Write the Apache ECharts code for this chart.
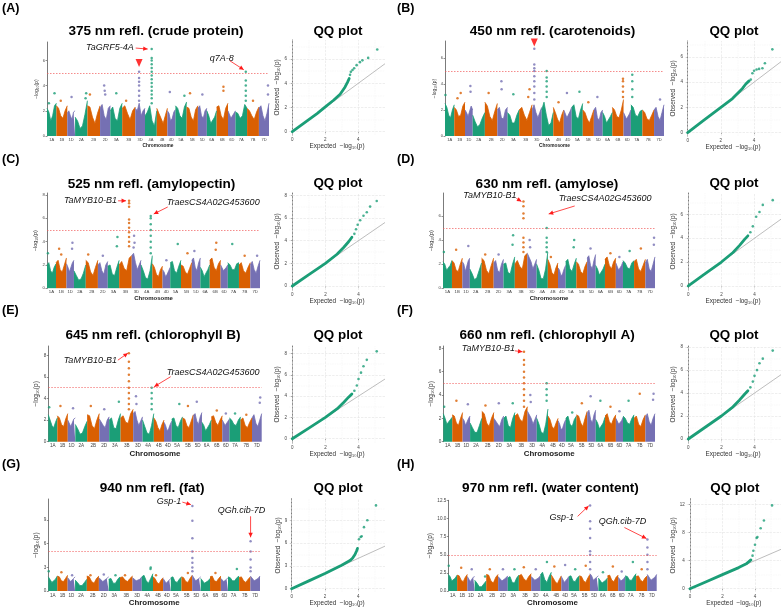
<!DOCTYPE html>
<html><head><meta charset="utf-8">
<script src="https://cdn.jsdelivr.net/npm/echarts@6/dist/echarts.min.js"></script>
<style>html,body{margin:0;padding:0;background:#fff}#c{width:782px;height:608px}</style>
</head><body><div id="c"></div>
<script>
const CHR = ['1A','1B','1D','2A','2B','2D','3A','3B','3D','4A','4B','4D','5A','5B','5D','6A','6B','6D','7A','7B','7D'];
const CHR_LEN = [594,689,495,780,801,651,750,830,615,744,673,509,709,713,566,618,720,473,736,750,638];
const COLORS = ['#1B9E77','#D95F02','#7570B3'];
const THRESHOLD = 5;

// envelope of the dense SNP cloud, 6 readings along each chromosome
const envA = [[2.2,1.9,1.2,1.6,2.4,2.6],[2.4,2.2,1.6,1.4,2.0,2.4],[1.8,2.0,1.6,1.3,1.9,2.0],[1.5,1.2,0.6,0.8,1.7,2.8],[2.4,2.3,1.5,1.0,1.8,2.4],[2.2,2.5,1.6,1.3,2.2,2.4],[2.0,2.3,1.4,1.2,2.2,2.6],[2.2,2.4,1.8,1.3,2.0,2.3],[2.2,2.0,2.6,1.6,2.0,2.2],[1.6,1.9,2.4,1.2,0.8,2.0],[2.2,1.8,1.4,1.0,1.6,2.2],[2.0,1.8,1.2,1.4,1.9,2.1],[2.4,2.2,1.6,1.4,2.3,2.7],[2.3,2.2,1.5,1.2,2.1,2.4],[2.2,2.4,1.6,1.4,2.0,2.2],[2.0,1.6,1.0,0.9,1.5,2.0],[2.3,2.4,1.6,1.3,2.2,2.6],[2.0,1.9,1.4,1.4,1.8,2.0],[1.9,1.8,1.4,1.6,2.5,2.2],[2.2,2.0,1.6,1.3,1.9,2.3],[2.2,2.4,1.6,1.2,1.8,2.6]];
const envB = [[2.5,2.2,1.6,1.4,2.0,2.4],[2.2,2.0,1.5,1.6,2.3,2.6],[2.0,1.8,1.5,1.6,2.3,2.0],[1.6,1.1,0.7,0.9,1.4,1.8],[2.6,2.3,1.5,1.2,1.9,2.5],[2.0,2.2,1.4,1.3,2.0,2.2],[1.8,1.6,1.0,1.0,1.6,2.0],[2.0,2.2,1.6,1.2,1.8,2.4],[2.0,2.4,1.8,1.4,1.8,2.2],[2.0,2.6,1.6,0.8,1.0,1.8],[2.2,1.8,1.3,1.0,1.6,2.0],[2.0,2.1,1.4,1.3,1.9,2.2],[2.2,2.4,1.5,1.3,2.0,2.5],[2.0,1.8,1.3,1.0,1.5,2.0],[2.0,2.2,1.4,1.2,1.8,2.0],[1.8,1.5,1.0,1.0,1.5,1.8],[2.2,2.0,1.5,1.4,2.0,2.8],[1.8,1.9,1.3,1.2,1.7,2.0],[2.4,2.2,1.6,1.5,1.9,2.0],[2.0,1.8,1.3,1.2,1.6,2.0],[2.0,2.2,1.5,1.2,1.8,2.4]];
const envC = [[2.0,2.2,1.5,1.3,1.8,2.1],[2.2,2.4,1.6,1.4,2.0,2.6],[2.1,1.8,1.4,1.5,2.2,2.4],[1.5,1.1,0.7,0.8,1.3,2.0],[2.4,2.2,1.4,1.1,1.8,2.4],[2.0,2.2,1.5,1.2,2.0,2.3],[1.9,2.0,1.2,1.1,1.8,2.4],[2.0,2.3,1.7,1.5,2.6,2.8],[2.8,3.0,2.2,1.6,2.0,2.4],[2.0,1.5,0.9,0.8,1.5,2.8],[2.1,1.8,1.2,1.0,1.6,1.9],[1.6,1.4,1.0,1.2,1.5,1.8],[2.2,2.3,1.5,1.3,1.9,2.4],[2.0,1.9,1.4,1.2,1.7,2.2],[2.4,2.6,1.8,1.5,2.2,2.6],[1.8,1.5,1.0,1.0,1.6,2.0],[2.4,2.6,1.8,1.5,2.1,2.4],[2.0,2.1,1.5,1.4,1.8,2.0],[2.2,2.0,1.6,1.6,2.1,2.2],[2.0,2.2,1.5,1.3,1.8,2.2],[2.0,2.3,1.6,1.3,1.9,2.4]];
const envD = [[2.2,2.0,1.5,1.4,1.9,2.3],[2.3,2.1,1.5,1.4,2.0,2.5],[2.2,2.0,1.4,1.5,2.3,2.5],[1.6,1.2,0.7,0.9,1.5,2.1],[2.5,2.3,1.5,1.2,1.9,2.5],[2.1,2.3,1.5,1.3,2.0,2.4],[2.0,2.1,1.3,1.2,2.0,2.6],[2.0,2.3,1.8,1.6,2.7,2.9],[2.9,2.8,2.2,1.6,2.0,2.4],[2.0,1.5,0.8,0.8,1.6,3.0],[2.4,2.0,1.3,1.1,1.7,2.1],[1.7,1.5,1.0,1.2,1.6,1.9],[2.2,2.4,1.6,1.4,2.0,2.5],[2.2,2.0,1.4,1.2,1.8,2.2],[2.5,2.7,1.9,1.6,2.3,2.8],[1.9,1.6,1.1,1.0,1.6,2.0],[2.4,2.6,1.9,1.6,2.2,2.5],[2.1,2.2,1.5,1.4,1.9,2.2],[2.3,2.1,1.7,1.6,2.1,2.3],[2.2,2.4,1.6,1.4,1.9,2.4],[2.1,2.4,1.6,1.4,2.0,2.6]];
const envE = [[2.5,2.0,1.5,1.3,1.8,2.2],[2.4,2.2,1.6,1.4,2.1,2.6],[2.0,1.9,1.4,1.5,2.1,2.2],[1.6,1.2,0.7,0.8,1.4,1.9],[2.5,2.4,1.5,1.2,2.0,2.6],[2.1,2.2,1.5,1.3,2.0,2.3],[2.0,2.2,1.3,1.2,2.0,2.6],[2.2,2.4,1.8,1.7,2.6,3.0],[2.6,2.8,2.0,1.5,1.9,2.3],[2.0,1.4,0.8,0.7,1.5,2.6],[2.2,1.9,1.3,1.0,1.6,2.0],[1.8,1.5,1.0,1.2,1.6,1.9],[2.1,2.2,1.5,1.3,1.9,2.3],[2.2,2.1,1.5,1.3,1.9,2.5],[2.4,2.6,1.9,1.6,2.3,2.7],[1.8,1.5,1.0,1.0,1.6,2.0],[2.3,2.4,1.8,1.5,2.0,2.4],[2.0,2.1,1.5,1.4,1.9,2.1],[2.2,2.0,1.6,1.5,2.0,2.3],[2.0,2.2,1.5,1.3,1.8,2.2],[2.2,2.5,1.7,1.4,2.0,2.6]];
const envF = [[2.4,2.0,1.5,1.4,1.9,2.1],[2.3,2.2,1.6,1.4,2.0,2.5],[2.0,1.8,1.4,1.5,2.0,2.2],[1.6,1.2,0.8,0.8,1.4,2.0],[2.6,2.4,1.6,1.3,2.0,2.5],[2.0,2.1,1.5,1.3,1.9,2.2],[2.0,2.2,1.4,1.2,2.0,2.5],[2.2,2.4,1.9,1.7,2.6,3.0],[2.6,2.7,2.0,1.5,1.9,2.3],[2.0,1.5,0.8,0.7,1.5,2.8],[2.2,1.9,1.3,1.1,1.6,2.0],[1.8,1.5,1.0,1.2,1.6,1.9],[2.0,2.2,1.5,1.3,1.9,2.2],[2.3,2.2,1.6,1.3,2.0,2.6],[2.4,2.7,1.9,1.6,2.3,2.7],[1.9,1.6,1.1,1.0,1.6,2.1],[2.2,2.4,1.7,1.5,2.0,2.3],[2.0,2.1,1.5,1.4,1.8,2.1],[2.2,2.0,1.6,1.5,2.0,2.3],[2.0,2.2,1.5,1.3,1.9,2.3],[2.1,2.4,1.7,1.4,2.0,2.4]];
const envG = [[1.8,1.6,1.1,1.0,1.5,1.9],[1.9,1.8,1.3,1.2,1.6,2.0],[1.7,1.6,1.2,1.2,1.6,1.8],[1.4,1.1,0.7,0.7,1.1,1.5],[1.9,1.8,1.2,1.0,1.6,1.9],[1.7,1.8,1.2,1.1,1.6,1.8],[1.5,1.6,1.0,1.0,1.5,1.8],[1.7,1.8,1.4,1.2,1.6,1.9],[1.7,1.8,1.3,1.1,1.5,1.8],[1.8,2.0,1.3,1.0,1.6,2.2],[1.8,1.6,1.1,0.9,1.4,1.7],[1.6,1.4,1.0,1.1,1.4,1.6],[1.7,1.8,1.2,1.1,1.5,1.8],[1.8,1.7,1.2,1.1,1.6,2.0],[2.0,1.8,1.3,1.2,1.6,1.8],[1.6,1.4,1.0,0.9,1.3,1.6],[1.8,1.9,1.3,1.2,1.6,1.9],[1.6,1.7,1.2,1.1,1.5,1.7],[1.8,1.7,1.3,1.3,1.7,1.9],[1.7,1.8,1.3,1.1,1.5,1.8],[1.9,1.8,1.3,1.1,1.6,1.9]];
const envH = [[2.3,2.0,1.4,1.3,1.8,2.2],[2.2,2.1,1.5,1.3,1.9,2.3],[2.0,1.9,1.3,1.4,1.9,2.0],[1.5,1.1,0.6,0.6,1.0,1.4],[2.3,2.2,1.4,1.1,1.9,2.3],[2.0,2.1,1.4,1.2,1.8,2.1],[1.8,2.0,1.2,1.1,1.8,2.2],[2.1,2.3,1.7,1.4,2.0,2.4],[2.0,2.2,1.5,1.3,1.8,2.1],[2.2,2.6,1.6,1.2,2.0,2.6],[2.2,2.0,1.3,1.0,1.6,2.1],[2.0,1.8,1.2,1.3,1.7,2.0],[2.0,2.1,1.4,1.3,1.8,2.1],[2.1,2.0,1.4,1.2,1.8,2.3],[2.4,2.1,1.5,1.4,1.9,2.1],[1.8,1.6,1.1,1.0,1.5,1.8],[2.1,2.2,1.5,1.3,1.9,2.2],[1.9,2.0,1.4,1.3,1.7,2.0],[2.1,2.0,1.5,1.5,2.0,2.4],[2.0,2.1,1.5,1.3,1.8,2.1],[2.3,2.2,1.5,1.3,1.9,2.3]];

// isolated SNPs above the cloud: [chromosome index, relative position, -log10(p)]
const spikesA = [[0,0.8,3.4],[0,0.2,2.6],[1,0.4,2.8],[2,0.55,3.1],[3,0.9,3.4],[3,0.85,3.0],[4,0.2,3.3],[5,0.4,4.0],[5,0.45,3.6],[5,0.5,3.3],[6,0.5,3.4],[7,0.3,2.8],[8,0.39,2.8],[8,0.39,3.2],[8,0.39,3.6],[8,0.39,4.0],[8,0.39,4.3],[8,0.39,4.6],[8,0.39,5.1],[9,0.57,2.6],[9,0.57,3.0],[9,0.57,3.3],[9,0.57,3.6],[9,0.57,3.9],[9,0.57,4.2],[9,0.57,4.5],[9,0.57,4.8],[9,0.57,5.1],[9,0.57,5.4],[9,0.57,5.7],[9,0.57,6.0],[9,0.57,6.2],[9,0.57,6.9],[11,0.3,3.5],[12,0.8,3.2],[13,0.3,3.4],[14,0.5,3.3],[16,0.6,3.9],[16,0.6,3.6],[18,0.89,2.8],[18,0.89,3.2],[18,0.89,3.6],[18,0.89,4.0],[18,0.89,4.4],[18,0.89,5.1],[19,0.5,2.8],[20,0.9,4.0],[20,0.9,3.3]];
const spikesB = [[0,0.05,3.15],[1,0.3,2.9],[1,0.6,3.3],[2,0.7,3.85],[2,0.72,3.4],[4,0.3,3.3],[5,0.4,4.2],[5,0.42,3.6],[6,0.5,3.2],[7,0.7,3.0],[7,0.8,3.6],[8,0.23,2.8],[8,0.23,3.3],[8,0.23,3.8],[8,0.23,4.2],[8,0.23,4.6],[8,0.23,5.0],[8,0.23,5.2],[8,0.23,5.5],[8,0.23,6.7],[9,0.43,3.0],[9,0.43,3.4],[9,0.43,3.8],[9,0.43,4.2],[9,0.43,4.5],[9,0.43,5.0],[10,0.5,2.6],[11,0.4,3.3],[12,0.7,3.4],[13,0.5,2.6],[14,0.4,3.0],[16,0.95,3.0],[16,0.95,3.4],[16,0.95,3.8],[16,0.95,4.2],[16,0.95,4.4],[18,0.12,3.0],[18,0.12,3.6],[18,0.12,4.2],[18,0.12,4.7],[20,0.6,2.8]];
const spikesC = [[0,0.1,3.0],[1,0.3,3.4],[1,0.5,2.9],[2,0.8,3.9],[2,0.75,3.4],[4,0.2,2.9],[5,0.5,2.8],[6,0.85,4.4],[6,0.8,3.6],[7,0.79,3.6],[7,0.79,4.0],[7,0.79,4.4],[7,0.79,4.8],[7,0.79,5.2],[7,0.79,5.6],[7,0.79,5.9],[7,0.79,7.0],[7,0.79,7.3],[7,0.79,7.5],[8,0.2,3.5],[8,0.25,4.5],[8,0.3,3.9],[9,0.86,3.0],[9,0.86,3.5],[9,0.86,4.0],[9,0.86,4.5],[9,0.86,5.0],[9,0.86,5.5],[9,0.86,6.0],[9,0.86,6.2],[11,0.5,2.4],[12,0.7,3.8],[13,0.6,3.0],[14,0.3,3.2],[16,0.6,3.9],[16,0.55,3.3],[18,0.4,3.8],[19,0.5,2.8],[20,0.7,2.8]];
const spikesD = [[0,0.1,3.0],[1,0.4,3.2],[2,0.8,3.5],[4,0.3,2.8],[5,0.5,2.8],[6,0.85,4.4],[6,0.8,3.6],[7,0.69,3.0],[7,0.69,3.4],[7,0.69,3.8],[7,0.69,4.2],[7,0.69,5.8],[7,0.69,6.2],[7,0.69,6.8],[7,0.69,7.2],[8,0.25,4.0],[8,0.3,3.4],[9,0.9,3.0],[9,0.9,3.4],[9,0.9,3.8],[9,0.9,4.2],[9,0.9,5.0],[10,0.3,2.6],[12,0.8,4.0],[12,0.75,3.4],[14,0.4,3.3],[16,0.5,2.9],[17,0.5,2.6],[18,0.6,3.1],[19,0.6,3.3],[20,0.9,4.2],[20,0.88,3.6]];
const spikesE = [[0,0.1,3.2],[1,0.3,3.3],[2,0.7,3.1],[4,0.3,3.3],[5,0.5,3.0],[6,0.85,3.7],[7,0.66,3.0],[7,0.66,3.5],[7,0.66,4.0],[7,0.66,4.5],[7,0.66,5.0],[7,0.66,5.6],[7,0.66,6.2],[7,0.66,6.8],[7,0.66,7.4],[7,0.66,8.2],[8,0.3,4.2],[8,0.35,3.5],[9,0.81,3.0],[9,0.81,3.5],[9,0.81,4.0],[9,0.81,4.5],[9,0.81,5.0],[12,0.7,3.5],[13,0.5,3.3],[14,0.4,3.7],[16,0.5,2.9],[17,0.5,2.6],[18,0.5,2.6],[19,0.5,2.5],[20,0.85,4.1],[20,0.8,3.6]];
const spikesF = [[0,0.1,3.0],[1,0.4,3.5],[2,0.7,3.2],[4,0.3,3.1],[5,0.5,3.3],[6,0.8,3.3],[7,0.72,3.0],[7,0.72,3.5],[7,0.72,4.0],[7,0.72,4.5],[7,0.72,5.0],[7,0.72,5.5],[7,0.72,6.0],[7,0.72,6.6],[7,0.72,7.0],[7,0.72,7.7],[8,0.3,4.0],[8,0.35,3.4],[9,0.88,3.5],[9,0.88,4.0],[9,0.88,4.5],[9,0.88,5.0],[12,0.6,2.5],[13,0.5,3.3],[14,0.4,3.9],[15,0.5,3.5],[16,0.5,3.0],[17,0.5,2.6],[18,0.5,3.5],[19,0.5,4.1],[20,0.85,4.1],[20,0.8,3.6]];
const spikesG = [[0,0.05,2.5],[1,0.4,2.4],[2,0.6,2.0],[4,0.3,2.0],[5,0.5,2.1],[6,0.6,2.0],[7,0.4,2.0],[9,0.8,3.0],[9,0.78,2.8],[10,0.3,2.0],[13,0.6,2.3],[14,0.02,2.5],[14,0.02,3.0],[14,0.02,3.6],[14,0.02,4.2],[14,0.02,5.0],[14,0.02,6.7],[14,0.02,8.9],[14,0.02,10.75],[16,0.5,2.3],[18,0.8,2.8],[20,0.02,2.5],[20,0.02,3.0],[20,0.02,4.0],[20,0.02,5.0],[20,0.02,6.3]];
const spikesH = [[0,0.05,3.5],[1,0.4,3.2],[2,0.6,3.0],[3,0.9,2.0],[4,0.3,3.0],[5,0.5,3.0],[6,0.6,3.0],[7,0.4,3.3],[8,0.5,3.0],[9,0.6,4.0],[10,0.3,3.4],[11,0.5,3.6],[12,0.6,3.0],[13,0.6,3.5],[14,0.02,3.0],[14,0.02,4.0],[14,0.02,5.0],[14,0.02,5.5],[14,0.02,7.3],[14,0.02,8.6],[14,0.02,9.6],[14,0.02,11.8],[15,0.5,2.6],[16,0.5,3.4],[17,0.5,2.7],[18,0.7,4.0],[19,0.5,3.0],[20,0.02,3.0],[20,0.02,4.0],[20,0.02,5.0],[20,0.02,6.0],[20,0.02,7.1]];

// QQ plots: dense part (expected, observed) and sparse tail
const qqLineA = [[0,0],[0.5,0.5],[1,1],[1.5,1.5],[2,2.05],[2.5,2.6],[2.9,3.1],[3.2,3.7],[3.35,4.1],[3.45,4.4]];
const qqPtsA = [[3.5,4.7],[3.55,4.95],[3.65,5.1],[3.75,5.25],[3.9,5.5],[4.1,5.75],[4.25,5.9],[4.6,6.1],[5.15,6.8]];
const qqLineB = [[0,0],[1,1],[2,2],[2.7,2.7],[3.0,3.1],[3.3,3.5],[3.5,3.85],[3.7,4.1]];
const qqPtsB = [[3.8,4.2],[3.9,4.7],[4.0,4.9],[4.15,5.0],[4.3,5.05],[4.5,5.1],[4.65,5.5],[5.1,6.6]];
const qqLineC = [[0,0],[1,1],[2,2],[2.7,2.8],[3.1,3.4],[3.4,3.9],[3.6,4.3]];
const qqPtsC = [[3.75,4.6],[3.85,5.0],[3.95,5.4],[4.1,5.8],[4.3,6.2],[4.5,6.5],[4.7,7.0],[5.1,7.5]];
const qqLineD = [[0,0],[1,1],[2,2],[2.7,2.8],[3.1,3.4],[3.4,3.9],[3.6,4.2]];
const qqPtsD = [[3.75,4.5],[3.9,5.0],[4.1,5.8],[4.3,6.2],[4.5,6.8],[5.1,7.2]];
const qqLineE = [[0,0],[1,1],[2,2],[2.7,2.8],[3.1,3.4],[3.4,3.9],[3.6,4.2]];
const qqPtsE = [[3.75,4.5],[3.9,5.0],[4.0,5.6],[4.15,6.2],[4.3,6.8],[4.5,7.4],[5.1,8.2]];
const qqLineF = [[0,0],[1,1],[2,2],[2.7,2.8],[3.1,3.4],[3.4,3.9],[3.6,4.2]];
const qqPtsF = [[3.75,4.5],[3.9,5.0],[4.0,5.5],[4.15,6.0],[4.3,6.6],[4.5,7.0],[5.1,7.7]];
const qqLineG = [[0,0],[1,1],[2,2],[3,3.1],[3.5,3.7],[3.65,4.0],[3.8,4.5],[3.9,5.0],[3.95,5.3]];
const qqPtsG = [[4.04,6.5],[4.14,6.8],[4.2,6.9],[4.34,8.1],[4.54,9.0],[5.06,10.96]];
const qqLineH = [[0,0],[1,1],[2,2],[3,3],[3.5,3.6],[3.75,4.1]];
const qqPtsH = [[3.85,4.7],[3.9,5.4],[4.0,6.25],[4.1,7.2],[4.15,7.35],[4.35,8.6],[4.55,9.7],[5.05,11.85]];

// gene annotations: [chromosome, relative position, -log10(p)] of the target SNP
const annotA = [{t:'TaGRF5-4A', at:[9,0.57,6.9]},{t:'q7A-8', at:[18,0.89,5.1]}];
const annotC = [{t:'TaMYB10-B1', at:[7,0.79,7.5]},{t:'TraesCS4A02G453600', at:[9,0.86,6.2]}];
const annotD = [{t:'TaMYB10-B1', at:[7,0.69,7.2]},{t:'TraesCS4A02G453600', at:[9,0.9,5.0]}];
const annotE = [{t:'TaMYB10-B1', at:[7,0.66,8.2]},{t:'TraesCS4A02G453600', at:[9,0.81,5.0]}];
const annotF = [{t:'TaMYB10-B1', at:[7,0.72,7.7]}];
const annotG = [{t:'Gsp-1', at:[14,0.02,10.75]},{t:'QGh.cib-7D', at:[20,0.02,6.3]}];
const annotH = [{t:'Gsp-1', at:[14,0.02,11.8]},{t:'QGh.cib-7D', at:[20,0.02,7.1]}];
const markA = [[8,0.39,5.8]];
const markB = [[8,0.23,7.18]];

const PANELS = [
 {id:'A', title:'375 nm refl. (crude protein)', env:envA, spikes:spikesA, qqLine:qqLineA, qqPts:qqPtsA, annot:annotA, marks:markA},
 {id:'B', title:'450 nm refl. (carotenoids)', env:envB, spikes:spikesB, qqLine:qqLineB, qqPts:qqPtsB, annot:[], marks:markB},
 {id:'C', title:'525 nm refl. (amylopectin)', env:envC, spikes:spikesC, qqLine:qqLineC, qqPts:qqPtsC, annot:annotC, marks:[]},
 {id:'D', title:'630 nm refl. (amylose)', env:envD, spikes:spikesD, qqLine:qqLineD, qqPts:qqPtsD, annot:annotD, marks:[]},
 {id:'E', title:'645 nm refl. (chlorophyll B)', env:envE, spikes:spikesE, qqLine:qqLineE, qqPts:qqPtsE, annot:annotE, marks:[]},
 {id:'F', title:'660 nm refl. (chlorophyll A)', env:envF, spikes:spikesF, qqLine:qqLineF, qqPts:qqPtsF, annot:annotF, marks:[]},
 {id:'G', title:'940 nm refl. (fat)', env:envG, spikes:spikesG, qqLine:qqLineG, qqPts:qqPtsG, annot:annotG, marks:[]},
 {id:'H', title:'970 nm refl. (water content)', env:envH, spikes:spikesH, qqLine:qqLineH, qqPts:qqPtsH, annot:annotH, marks:[]}
];

// ---------- layout / style ----------
const FONT = '"Liberation Sans", Arial, sans-serif';
const ROWS = [{title:31.5,label:8.5},{title:184,label:160},{title:335.7,label:311},{title:488.7,label:465}];
const LAYOUT = {
 A:{col:0,row:0, man:[47,42,222,94], yMax:7.46, yT:[0,2,4,6], qq:[289,40,96,95], qx:[-0.2,5.62], qy:[-0.27,7.58], qT:[0,2,4,6], fT:4, fN:5, fC:4.8,
    ann:[{sx:-16,sy:-1,ex:-4,ey:0,tx:-18,ty:-2,al:'right'},{sx:-16,sy:-11,ex:-2,ey:-2,tx:-12,ty:-13,al:'right'}]},
 B:{col:1,row:0, man:[445,41,219,95], yMax:7.3, yT:[0,2,4,6], qq:[685,41,96,95], qx:[-0.16,5.62], qy:[-0.27,7.26], qT:[0,2,4,6], fT:4, fN:5, fC:4.8, ann:[]},
 C:{col:0,row:1, man:[47,193,213,95.3], yMax:8.17, yT:[0,2,4,6,8], qq:[289,193,96,97], qx:[-0.2,5.6], qy:[-0.35,8.2], qT:[0,2,4,6,8], fT:4.3, fN:5.4, fC:6,
    ann:[{sx:-11,sy:0,ex:-3,ey:0,tx:-12,ty:0,al:'right'},{sx:17,sy:-9,ex:3,ey:-2,tx:16,ty:-13,al:'left'}]},
 D:{col:1,row:1, man:[443,193,212,95.3], yMax:7.9, yT:[0,2,4,6], qq:[685,193,96,97], qx:[-0.2,5.6], qy:[-0.35,7.8], qT:[0,2,4,6], fT:4.3, fN:5.4, fC:6,
    ann:[{sx:-7,sy:-3,ex:-2,ey:0,tx:-7,ty:-6,al:'right'},{sx:28,sy:-22,ex:2,ey:-14,tx:12,ty:-29,al:'left'}]},
 E:{col:0,row:2, man:[48.3,346,213.4,95.7], yMax:8.86, yT:[0,2,4,6,8], qq:[289,346,96,97], qx:[-0.2,5.6], qy:[-0.4,8.7], qT:[0,2,4,6,8], fT:4.6, fN:6.5, fC:7.9,
    ann:[{sx:-11,sy:7,ex:-1,ey:0,tx:-12,ty:7.5,al:'right'},{sx:19,sy:-11,ex:2.5,ey:-1,tx:15,ty:-15,al:'left'}]},
 F:{col:1,row:2, man:[443.3,346,211.7,95.7], yMax:8.2, yT:[0,2,4,6,8], qq:[685,346,96,97], qx:[-0.2,5.6], qy:[-0.35,8.1], qT:[0,2,4,6,8], fT:4.6, fN:6.5, fC:7.9,
    ann:[{sx:-9,sy:-1,ex:-1.5,ey:0,tx:-9,ty:-3,al:'right'}]},
 G:{col:0,row:3, man:[48.3,499,211.7,94.7], yMax:11.65, yT:[0,3,6,9], qq:[289.3,498.7,95.7,93.3], qx:[-0.14,5.6], qy:[-0.43,11.84], qT:[0,3,6,9], fT:4.6, fN:6.5, fC:7.9,
    ann:[{sx:-10,sy:-4,ex:-1.5,ey:-1.5,tx:-11,ty:-5,al:'right'},{sx:0,sy:-25,ex:0,ey:-4,tx:-9,ty:-30.5,al:'center'}]},
 H:{col:1,row:3, man:[448.3,500.3,208.4,93.4], yMax:12.5, yT:[0,2.5,5,7.5,10,12.5], yFix:1, qq:[686.7,498.7,94.3,93.3], qx:[-0.2,5.6], qy:[-0.47,12.8], qT:[0,4,8,12], fT:4.6, fN:6.5, fC:7.9,
    ann:[{sx:-12.5,sy:11,ex:-1.5,ey:0.5,tx:-16,ty:11.7,al:'right'},{sx:-23,sy:-12,ex:-1,ey:-1,tx:-25,ty:-18,al:'center'}]}
};

// ---------- derived positions ----------
const STARTS = []; let acc = 0; CHR_LEN.forEach(l => { STARTS.push(acc); acc += l; });
const TOTAL = acc;
const MIDS = STARTS.map((s, i) => s + CHR_LEN[i] / 2);
const posOf = (c, rel) => STARTS[c] + rel * CHR_LEN[c];

const grids = [], xAxis = [], yAxis = [], series = [];
const NOAX = {show:false};
PANELS.forEach((p, pi) => {
  const L = LAYOUT[p.id];
  const gm = grids.length;
  grids.push({left:L.man[0], top:L.man[1], width:L.man[2], height:L.man[3]});
  xAxis.push({gridIndex:gm, type:'value', min:0, max:TOTAL, axisLine:NOAX, axisTick:NOAX, splitLine:NOAX,
    axisLabel:{customValues:MIDS, formatter:(v)=>{const i = MIDS.findIndex(m=>Math.abs(m-v)<1e-6); return i>=0?CHR[i]:'';}, fontSize:L.fT, margin:2, color:'#444', fontFamily:FONT},
    name:'Chromosome', nameLocation:'middle', nameGap:L.fT+3, nameTextStyle:{fontWeight:'bold', fontSize:L.fC, fontFamily:FONT, color:'#222'}});
  yAxis.push({gridIndex:gm, type:'value', min:0, max:L.yMax, splitLine:NOAX,
    axisLine:{show:true, lineStyle:{color:'#222', width:0.6}}, axisTick:{show:true, length:1.5, customValues:L.yT, lineStyle:{color:'#222',width:0.5}},
    axisLabel:{customValues:L.yT, fontSize:L.fT, margin:2, color:'#444', fontFamily:FONT, formatter:(v)=>L.yFix? v.toFixed(1): String(v)},
    name:'\u2212log\u2081\u2080(p)', nameLocation:'middle', nameRotate:90, nameGap:L.fT*1.2+3.5, nameTextStyle:{fontSize:L.fN, fontFamily:FONT, color:'#333'}});
  p.env.forEach((vals, c) => {
    const col = COLORS[c % 3];
    series.push({type:'line', xAxisIndex:gm, yAxisIndex:gm, silent:true, symbol:'none', z:2,
      data: vals.map((v, k) => [posOf(c, k / (vals.length - 1)), v]),
      lineStyle:{color:col, width:0.8}, areaStyle:{color:col, opacity:1}});
  });
  series.push({type:'scatter', xAxisIndex:gm, yAxisIndex:gm, silent:true, symbolSize:2.5, z:3,
    data: p.spikes.map(s => [posOf(s[0], s[1]), s[2], s[0]]),
    itemStyle:{color:(prm)=>COLORS[prm.data[2] % 3]},
    markLine:{silent:true, symbol:['none','none'], label:{show:false}, data:[{yAxis:THRESHOLD}],
      lineStyle:{color:'#f05a5a', type:[1.5,1.5], width:0.7}}});
  if (p.marks.length) series.push({type:'scatter', xAxisIndex:gm, yAxisIndex:gm, silent:true, z:5,
    symbol:'triangle', symbolRotate:180, symbolSize:[7,8], itemStyle:{color:'#ff0000'},
    data:p.marks.map(m => [posOf(m[0], m[1]), m[2]])});

  // QQ plot
  const gq = grids.length;
  grids.push({left:L.qq[0], top:L.qq[1], width:L.qq[2], height:L.qq[3]});
  xAxis.push({gridIndex:gq, type:'value', min:L.qx[0], max:L.qx[1], splitLine:NOAX, axisLine:NOAX,
    axisTick:{show:true, length:1.5, customValues:[0,2,4], lineStyle:{color:'#333',width:0.5}},
    axisLabel:{customValues:[0,2,4], fontSize:4.5, margin:2, color:'#444', fontFamily:FONT},
    name:'Expected  \u2212log\u2081\u2080(p)', nameLocation:'middle', nameGap:8, nameTextStyle:{fontSize:6.4, fontFamily:FONT, color:'#333'}});
  yAxis.push({gridIndex:gq, type:'value', min:L.qy[0], max:L.qy[1], splitLine:NOAX,
    axisLine:{show:true, lineStyle:{color:'#222', width:0.6}},
    axisTick:{show:true, length:1.5, customValues:L.qT, lineStyle:{color:'#333',width:0.5}},
    axisLabel:{customValues:L.qT, fontSize:4.5, margin:2, color:'#444', fontFamily:FONT},
    name:'Observed  \u2212log\u2081\u2080(p)', nameLocation:'middle', nameRotate:90, nameGap:6, nameTextStyle:{fontSize:6.4, fontFamily:FONT, color:'#333'}});
  const qStep = L.qT[1] - L.qT[0];
  const gl = [];
  for (let v = 0; v <= L.qx[1]; v += 1) gl.push({xAxis:v, lineStyle:{color: v % 2 === 0 ? '#e3e3e3' : '#f0f0f0', width: v % 2 === 0 ? 0.6 : 0.4}});
  for (let v = 0; v <= L.qy[1]; v += qStep / 2) gl.push({yAxis:v, lineStyle:{color: (v / qStep) % 1 === 0 ? '#e3e3e3' : '#f0f0f0', width: (v / qStep) % 1 === 0 ? 0.6 : 0.4}});
  const dmax = Math.min(L.qx[1], L.qy[1]);
  series.push({type:'line', xAxisIndex:gq, yAxisIndex:gq, silent:true, symbol:'none', z:2, clip:true,
    data:[[0,0],[dmax,dmax]], lineStyle:{color:'#a0a0a0', width:0.7},
    markLine:{silent:true, symbol:['none','none'], label:{show:false}, data:gl, z:1}});
  series.push({type:'line', xAxisIndex:gq, yAxisIndex:gq, silent:true, symbol:'none', z:3,
    data:p.qqLine, lineStyle:{color:COLORS[0], width:2.8, cap:'round'}});
  series.push({type:'scatter', xAxisIndex:gq, yAxisIndex:gq, silent:true, z:4, symbolSize:2.6,
    data:p.qqPts, itemStyle:{color:COLORS[0]}});
});

const chart = echarts.init(document.getElementById('c'), null, {renderer:'canvas', width:782, height:608});
chart.setOption({animation:false, backgroundColor:'#fff', grid:grids, xAxis:xAxis, yAxis:yAxis, series:series});

// ---------- texts & annotations ----------
const G = [];
const txt = (x, y, text, font, align, fill) => G.push({type:'text', x:x, y:y, silent:true, z:100,
  style:{text:text, font:font, align:align||'center', verticalAlign:'middle', textAlign:align||'center', textVerticalAlign:'middle', fill:fill||'#000'}});
PANELS.forEach((p, pi) => {
  const L = LAYOUT[p.id]; const R = ROWS[L.row]; const ox = L.col ? 395 : 0;
  txt(ox + 2, R.label, '(' + p.id + ')', 'bold 12.5px ' + FONT, 'left');
  txt(L.man[0] + L.man[2] / 2 - 2, R.title, p.title, 'bold 13.6px ' + FONT);
  txt(L.qq[0] + L.qq[2] / 2 + 1, R.title - 0.5, 'QQ plot', 'bold 13.4px ' + FONT);
  p.annot.forEach((a, ai) => {
    const o = L.ann[ai];
    const pt = chart.convertToPixel({gridIndex: pi * 2}, [posOf(a.at[0], a.at[1]), a.at[2]]);
    const sx = pt[0] + o.sx, sy = pt[1] + o.sy, ex = pt[0] + o.ex, ey = pt[1] + o.ey;
    G.push({type:'line', silent:true, z:101, shape:{x1:sx, y1:sy, x2:ex, y2:ey}, style:{stroke:'#ff1a1a', lineWidth:0.8}});
    const ang = Math.atan2(ey - sy, ex - sx), hl = 4.5, hw = 2.2;
    const bx = ex - hl * Math.cos(ang), by = ey - hl * Math.sin(ang);
    G.push({type:'polygon', silent:true, z:101, shape:{points:[[ex, ey], [bx - hw * Math.sin(ang), by + hw * Math.cos(ang)], [bx + hw * Math.sin(ang), by - hw * Math.cos(ang)]]}, style:{fill:'#ff1a1a'}});
    txt(pt[0] + o.tx, pt[1] + o.ty, a.t, 'italic 9px ' + FONT, o.al, '#111');
  });
});
chart.setOption({graphic: G});
</script></body></html>
